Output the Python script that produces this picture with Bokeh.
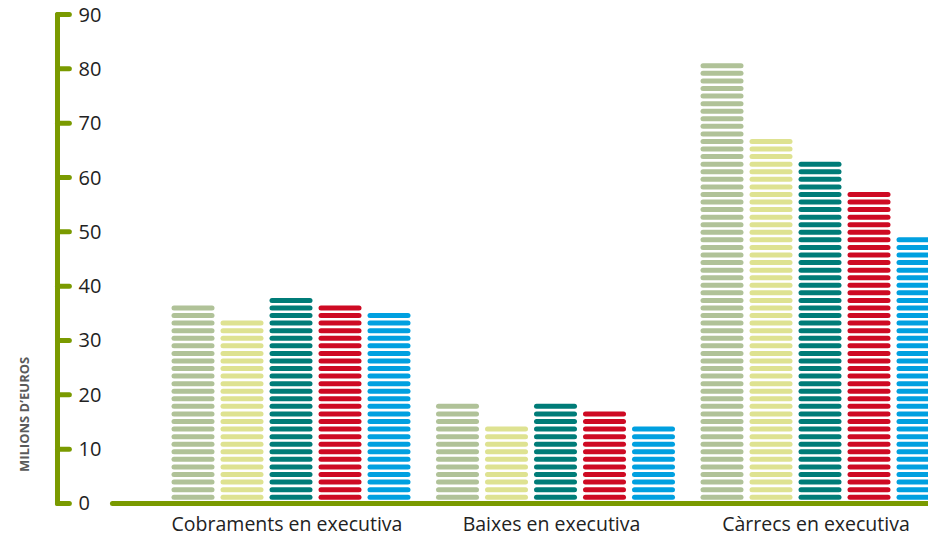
import numpy as np
from bokeh.plotting import figure
from bokeh.models import Range1d, ColumnDataSource
from bokeh.core.properties import value
from bokeh.embed import file_html
from bokeh.resources import INLINE

# ---------------- data ----------------
categories = ["Cobraments en executiva", "Baixes en executiva", "Càrrecs en executiva"]
series_1 = [36.4, 18.3, 81.0]
series_2 = [33.7, 14.2, 67.1]
series_3 = [37.8, 18.3, 62.9]
series_4 = [36.4, 16.9, 57.3]
series_5 = [35.1, 14.2, 49.0]
y_ticks = [0, 10, 20, 30, 40, 50, 60, 70, 80, 90]
y_title = "MILIONS D’EUROS"

# ---------------- styles / layout ----------------
series = [series_1, series_2, series_3, series_4, series_5]
colors = ["#b0c298", "#dee291", "#007c78", "#ce0a23", "#00a0e0"]
GREEN = "#7a9a00"
FONT = "Open Sans"

PX = 264.5                 # pixels per group unit
BAR_STEP = 49 / PX         # distance between bars in a group
HALF_LEN = 19 / PX         # half length of a stripe segment (without caps)
STRIPE_STEP = 1.393        # stripe pitch, in value units
STRIPE_BASE = 1.16         # centre of the lowest stripe
STRIPE_HALF = 0.46
LABEL_SHIFT = -4 / PX      # category labels sit slightly left of group centre
CAT_LABEL_Y = -3.75        # vertical centre of category labels (value units)

X_START, X_END = -1.0983, 2.4102
Y_START, Y_END = -6.074, 92.577
AX_X = -0.8828
TICK_END = -0.838
LBL_X = -0.8034
TITLE_X = -1.0076
TITLE_Y = 16.4
XAXIS_START = -0.675

p = figure(width=928, height=536, x_range=Range1d(X_START, X_END),
           y_range=Range1d(Y_START, Y_END), x_axis_location=None, y_axis_location=None,
           output_backend="svg", toolbar_location=None,
           min_border_left=0, min_border_right=0, min_border_top=0,
           min_border_bottom=0)
p.outline_line_color = None
p.xgrid.visible = False
p.ygrid.visible = False
p.background_fill_color = "white"
p.border_fill_color = "white"

# striped bars
for j, vals in enumerate(series):
    x0, x1, ys = [], [], []
    for i, v in enumerate(vals):
        xc = i + (j - 2) * BAR_STEP
        k = 0
        while STRIPE_BASE + STRIPE_HALF + k * STRIPE_STEP <= v + 0.05:
            x0.append(xc - HALF_LEN)
            x1.append(xc + HALF_LEN)
            ys.append(STRIPE_BASE + k * STRIPE_STEP)
            k += 1
    src = ColumnDataSource(dict(x0=x0, x1=x1, y=ys))
    p.segment(x0="x0", y0="y", x1="x1", y1="y", source=src,
              line_width=5, line_cap="round", line_color=colors[j])

# y axis (line, ticks, labels, title)
p.segment(x0=[AX_X], y0=[y_ticks[0]], x1=[AX_X], y1=[y_ticks[-1]],
          line_width=5, line_cap="round", line_color=GREEN)
p.segment(x0=[AX_X] * len(y_ticks), y0=y_ticks, x1=[TICK_END] * len(y_ticks), y1=y_ticks,
          line_width=5, line_cap="round", line_color=GREEN)
p.text(x=[LBL_X] * len(y_ticks), y=y_ticks, text=[str(t) for t in y_ticks],
       text_font=value(FONT), text_font_size="20px", text_align="left",
       text_baseline="middle", text_color="#222222")
p.text(x=[TITLE_X], y=[TITLE_Y], text=[y_title], angle=np.pi / 2,
       text_font=value(FONT), text_font_size="13px", text_font_style="bold",
       text_align="center", text_baseline="middle", text_color="#5a5a5a")

# x axis (baseline + category labels)
p.segment(x0=[XAXIS_START], y0=[0], x1=[X_END], y1=[0],
          line_width=5, line_cap="round", line_color=GREEN)
p.text(x=[i + LABEL_SHIFT for i in range(len(categories))], y=[CAT_LABEL_Y] * len(categories),
       text=categories, text_font=value(FONT), text_font_size="19.5px",
       text_align="center", text_baseline="middle", text_color="#222222")

open("out.html", "w").write(file_html(p, INLINE))
